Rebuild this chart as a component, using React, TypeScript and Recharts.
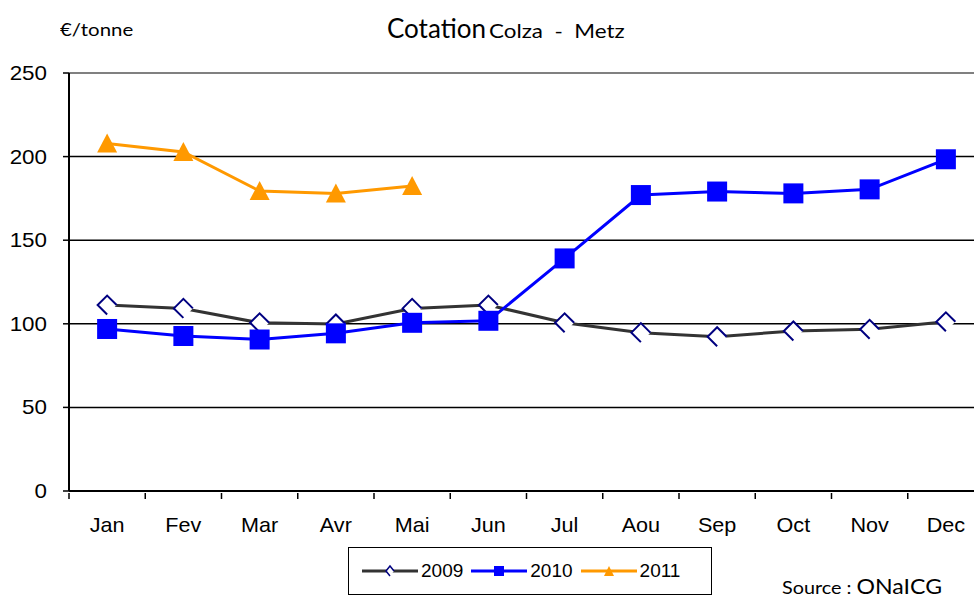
import React from "react";
import { CartesianGrid, Line, LineChart, ReferenceLine, XAxis, YAxis } from "recharts";

const months = ["Jan", "Fev", "Mar", "Avr", "Mai", "Jun", "Jul", "Aou", "Sep", "Oct", "Nov", "Dec"];
const cot2009 = [111.2, 109.2, 100.6, 99.9, 109.2, 111.2, 100.6, 94.7, 92.3, 95.7, 96.7, 101.2];
const cot2010 = [96.9, 92.7, 90.6, 94.3, 100.6, 101.8, 139.1, 177, 179.1, 178, 180.4, 198.4];
const cot2011: (number | null)[] = [207.9, 202.8, 179.4, 177.9, 182.4, null, null, null, null, null, null, null];
const yTicks = [0, 50, 100, 150, 200, 250];

const data = months.map((m, i) => ({
  month: m,
  y2009: cot2009[i],
  y2010: cot2010[i],
  y2011: cot2011[i]
}));

const BAND = 915 / 12;
const AXIS_FONT = "'Liberation Sans', Arial, sans-serif";
const TITLE_FONT = "Lato, 'Open Sans', sans-serif";

function DiamondDot(props: any) {
  const { cx, cy, index } = props;
  if (cx == null || cy == null) return <g key={`d-${index}`} />;
  const r = 9.5;
  return (
    <path
      key={`d-${index}`}
      d={`M ${cx + r} ${cy} L ${cx} ${cy - r} L ${cx - r} ${cy} L ${cx} ${cy + r}`}
      fill="#ffffff"
      stroke="#000080"
      strokeWidth={2}
    />
  );
}

function SquareDot(props: any) {
  const { cx, cy, index } = props;
  if (cx == null || cy == null) return <g key={`s-${index}`} />;
  return <rect key={`s-${index}`} x={cx - 10} y={cy - 10} width={20} height={20} fill="#0000ff" />;
}

function TriangleDot(props: any) {
  const { cx, cy, index } = props;
  if (cx == null || cy == null) return <g key={`t-${index}`} />;
  return (
    <polygon
      key={`t-${index}`}
      points={`${cx},${cy - 10} ${cx - 10},${cy + 9} ${cx + 10},${cy + 9}`}
      fill="#ff9900"
    />
  );
}

function MonthTick(props: any) {
  const { x, y, payload } = props;
  const left = x - BAND / 2;
  return (
    <g>
      <line x1={left} y1={y - 6} x2={left} y2={y} stroke="#000" strokeWidth={1.5} />
      <text
        x={x}
        y={y + 33}
        textAnchor="middle"
        fontSize={20}
        fontFamily={AXIS_FONT}
        fill="#000"
        transform={`translate(${x} 0) scale(1.08 1) translate(${-x} 0)`}
      >
        {payload.value}
      </text>
    </g>
  );
}

function ValueTick(props: any) {
  const { x, y, payload } = props;
  return (
    <text
      x={x}
      y={y + 7}
      textAnchor="end"
      fontSize={20}
      fontFamily={AXIS_FONT}
      fill="#000"
      transform={`translate(${x} 0) scale(1.12 1) translate(${-x} 0)`}
    >
      {payload.value}
    </text>
  );
}

function LegendSample({ color, dot }: { color: string; dot: "diamond" | "square" | "triangle" }) {
  return (
    <svg width={56} height={14} style={{ display: "block" }}>
      <line x1={0} y1={7} x2={56} y2={7} stroke={color} strokeWidth={3} />
      {dot === "diamond" && (
        <path d="M 32 7 L 28 2 L 24 7 L 28 12" fill="#fff" stroke="#000080" strokeWidth={1.5} />
      )}
      {dot === "square" && <rect x={23} y={2} width={10} height={10} fill="#0000ff" />}
      {dot === "triangle" && <polygon points="28,2 23,12 33,12" fill="#ff9900" />}
    </svg>
  );
}

export default function App() {
  return (
    <div
      style={{
        position: "fixed",
        left: 0,
        top: 0,
        width: 974,
        height: 597,
        overflow: "hidden",
        background: "#fff"
      }}
    >
      <div
        style={{
          position: "absolute",
          left: 60,
          top: 19,
          fontFamily: TITLE_FONT,
          fontSize: 17,
          transform: "scaleX(1.2)",
          transformOrigin: "left"
        }}
      >
        €/tonne
      </div>
      <div
        style={{
          position: "absolute",
          left: 387,
          top: 12,
          fontFamily: TITLE_FONT,
          whiteSpace: "pre"
        }}
      >
        <span style={{ fontSize: 26 }}>Cotation</span>
        <span
          style={{
            display: "inline-block",
            fontSize: 20,
            marginLeft: 3,
            transform: "scaleX(1.12)",
            transformOrigin: "left"
          }}
        >
          {"Colza  -  Metz"}
        </span>
      </div>

      <LineChart
        width={1000}
        height={597}
        data={data}
        margin={{ top: 73, right: 16, bottom: 76, left: 9 }}
      >
        <CartesianGrid horizontal vertical={false} stroke="#000" strokeWidth={1.5} />
        <ReferenceLine y={250} stroke="#808080" strokeWidth={2} />
        <XAxis
          dataKey="month"
          height={30}
          padding={{ left: BAND / 2, right: BAND / 2 }}
          axisLine={{ stroke: "#000", strokeWidth: 2 }}
          tickLine={false}
          tick={<MonthTick />}
          interval={0}
        />
        <YAxis
          width={60}
          domain={[0, 250]}
          ticks={yTicks}
          interval={0}
          axisLine={{ stroke: "#000", strokeWidth: 2 }}
          tickLine={{ stroke: "#000", strokeWidth: 1.5 }}
          tickSize={6}
          tickMargin={16}
          tick={<ValueTick />}
        />
        <Line
          dataKey="y2009"
          stroke="#333333"
          strokeWidth={3}
          dot={DiamondDot}
          activeDot={false}
          isAnimationActive={false}
        />
        <Line
          dataKey="y2010"
          stroke="#0000ff"
          strokeWidth={3}
          dot={SquareDot}
          activeDot={false}
          isAnimationActive={false}
        />
        <Line
          dataKey="y2011"
          stroke="#ff9900"
          strokeWidth={3}
          dot={TriangleDot}
          activeDot={false}
          connectNulls={false}
          isAnimationActive={false}
        />
      </LineChart>

      <div
        style={{
          position: "absolute",
          left: 348,
          top: 547,
          width: 364,
          height: 48,
          border: "1px solid #000",
          display: "flex",
          alignItems: "center",
          paddingLeft: 13,
          boxSizing: "border-box",
          fontFamily: AXIS_FONT,
          fontSize: 19
        }}
      >
        <LegendSample color="#333333" dot="diamond" />
        <span style={{ marginLeft: 3, marginRight: 8 }}>2009</span>
        <LegendSample color="#0000ff" dot="square" />
        <span style={{ marginLeft: 3, marginRight: 8 }}>2010</span>
        <LegendSample color="#ff9900" dot="triangle" />
        <span style={{ marginLeft: 3 }}>2011</span>
      </div>

      <div
        style={{
          position: "absolute",
          left: 782,
          top: 573,
          fontFamily: TITLE_FONT,
          whiteSpace: "nowrap",
          transform: "scaleX(1.1)",
          transformOrigin: "left"
        }}
      >
        <span style={{ fontSize: 18 }}>Source : </span>
        <span style={{ fontSize: 21 }}>ONaICG</span>
      </div>
    </div>
  );
}
